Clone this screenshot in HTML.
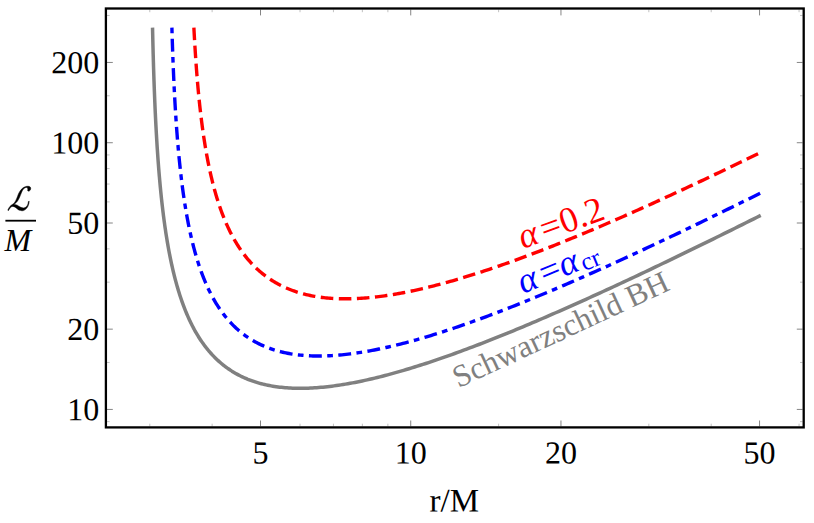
<!DOCTYPE html>
<html><head><meta charset="utf-8"><title>plot</title>
<style>
html,body{margin:0;padding:0;background:#fff;}
body{width:814px;height:523px;overflow:hidden;}
svg{display:block;}
text{font-family:"Liberation Serif",serif;text-rendering:geometricPrecision;}
</style></head><body>
<svg width="814" height="523" viewBox="0 0 814 523">
<rect x="0" y="0" width="814" height="523" fill="#ffffff"/>
<path d="M152.53,27.60 L152.58,29.65 L152.62,31.70 L152.67,33.75 L152.72,35.80 L152.76,37.85 L152.81,39.90 L152.86,41.95 L152.91,43.99 L152.96,46.04 L153.02,48.08 L153.07,50.13 L153.12,52.17 L153.18,54.21 L153.24,56.25 L153.29,58.29 L153.35,60.32 L153.41,62.36 L153.47,64.40 L153.53,66.43 L153.59,68.46 L153.66,70.50 L153.72,72.53 L153.79,74.56 L153.86,76.58 L153.92,78.61 L153.99,80.64 L154.07,82.66 L154.14,84.68 L154.21,86.70 L154.29,88.72 L154.36,90.74 L154.44,92.76 L154.52,94.78 L154.60,96.79 L154.68,98.80 L154.76,100.81 L154.85,102.82 L154.93,104.83 L155.02,106.84 L155.11,108.84 L155.20,110.84 L155.29,112.85 L155.39,114.84 L155.48,116.84 L155.58,118.84 L155.68,120.83 L155.78,122.82 L155.88,124.81 L155.99,126.80 L156.10,128.79 L156.20,130.77 L156.31,132.75 L156.43,134.73 L156.54,136.71 L156.66,138.69 L156.78,140.66 L156.90,142.63 L157.02,144.60 L157.14,146.57 L157.27,148.53 L157.40,150.49 L157.53,152.45 L157.67,154.41 L157.80,156.36 L157.94,158.31 L158.08,160.26 L158.22,162.21 L158.37,164.15 L158.52,166.10 L158.67,168.03 L158.82,169.97 L158.98,171.90 L159.14,173.83 L159.30,175.76 L159.47,177.68 L159.64,179.60 L159.81,181.52 L159.98,183.43 L160.16,185.34 L160.34,187.25 L160.52,189.16 L160.71,191.06 L160.90,192.95 L161.09,194.85 L161.28,196.74 L161.48,198.62 L161.69,200.51 L161.89,202.39 L162.10,204.26 L162.32,206.13 L162.54,208.00 L162.76,209.86 L162.98,211.72 L163.21,213.58 L163.44,215.43 L163.68,217.28 L163.92,219.12 L164.17,220.96 L164.42,222.79 L164.67,224.62 L164.93,226.44 L165.19,228.26 L165.46,230.08 L165.73,231.89 L166.00,233.69 L166.28,235.49 L166.57,237.29 L166.86,239.08 L167.15,240.86 L167.45,242.64 L167.76,244.41 L168.07,246.18 L168.39,247.95 L168.71,249.70 L169.03,251.45 L169.36,253.20 L169.70,254.94 L170.04,256.67 L170.39,258.40 L170.75,260.12 L171.11,261.84 L171.47,263.54 L171.85,265.25 L172.22,266.94 L172.61,268.63 L173.00,270.31 L173.40,271.99 L173.80,273.66 L174.21,275.32 L174.63,276.97 L175.05,278.62 L175.48,280.26 L175.92,281.89 L176.37,283.51 L176.82,285.13 L177.28,286.74 L177.75,288.34 L178.22,289.93 L178.70,291.51 L179.19,293.09 L179.69,294.66 L180.20,296.22 L180.71,297.77 L181.23,299.31 L181.76,300.84 L182.30,302.37 L182.85,303.88 L183.40,305.39 L183.97,306.89 L184.54,308.37 L185.12,309.85 L185.71,311.32 L186.31,312.78 L186.92,314.23 L187.54,315.67 L188.17,317.09 L188.81,318.51 L189.46,319.92 L190.11,321.32 L190.78,322.70 L191.46,324.08 L192.15,325.44 L192.85,326.80 L193.55,328.14 L194.27,329.47 L195.00,330.79 L195.74,332.10 L196.50,333.39 L197.26,334.68 L198.03,335.95 L198.82,337.21 L199.62,338.46 L200.42,339.69 L201.25,340.92 L202.08,342.13 L202.92,343.33 L203.78,344.51 L204.65,345.68 L205.53,346.84 L206.42,347.99 L207.33,349.12 L208.24,350.24 L209.17,351.34 L210.12,352.43 L211.08,353.51 L212.05,354.57 L213.03,355.62 L214.03,356.65 L215.04,357.67 L216.06,358.68 L217.10,359.67 L218.15,360.64 L219.22,361.61 L220.30,362.55 L221.39,363.48 L222.50,364.40 L223.63,365.29 L224.76,366.18 L225.92,367.05 L227.08,367.90 L228.27,368.73 L229.46,369.55 L230.68,370.36 L231.90,371.15 L233.15,371.92 L234.41,372.67 L235.68,373.41 L236.97,374.13 L238.28,374.84 L239.60,375.52 L240.93,376.19 L242.29,376.85 L243.66,377.48 L245.04,378.10 L246.44,378.70 L247.86,379.29 L249.30,379.85 L250.75,380.40 L252.22,380.93 L253.70,381.44 L255.20,381.94 L256.72,382.42 L258.26,382.87 L259.81,383.32 L261.38,383.74 L262.97,384.14 L264.57,384.53 L266.19,384.89 L267.83,385.24 L269.49,385.57 L271.16,385.89 L272.85,386.18 L274.56,386.45 L276.28,386.71 L278.03,386.95 L279.79,387.16 L281.56,387.36 L283.36,387.54 L285.17,387.70 L287.01,387.85 L288.86,387.97 L290.72,388.07 L292.61,388.16 L294.51,388.23 L296.43,388.27 L298.37,388.30 L300.32,388.31 L302.30,388.30 L304.29,388.27 L306.30,388.23 L308.32,388.16 L310.37,388.07 L312.43,387.97 L314.51,387.85 L316.61,387.70 L318.73,387.54 L320.86,387.36 L323.01,387.16 L325.18,386.94 L327.37,386.71 L329.57,386.45 L331.79,386.18 L334.03,385.88 L336.29,385.57 L338.56,385.24 L340.85,384.89 L343.16,384.52 L345.49,384.14 L347.83,383.73 L350.19,383.31 L352.57,382.87 L354.96,382.41 L357.37,381.94 L359.80,381.44 L362.24,380.93 L364.70,380.40 L367.18,379.85 L369.68,379.28 L372.19,378.70 L374.72,378.10 L377.26,377.48 L379.82,376.84 L382.39,376.19 L384.99,375.52 L387.59,374.83 L390.22,374.13 L392.86,373.40 L395.51,372.67 L398.18,371.91 L400.87,371.14 L403.57,370.35 L406.29,369.55 L409.02,368.73 L411.77,367.89 L414.53,367.04 L417.31,366.17 L420.10,365.29 L422.90,364.39 L425.73,363.47 L428.56,362.54 L431.41,361.60 L434.27,360.64 L437.15,359.66 L440.04,358.67 L442.95,357.67 L445.87,356.65 L448.80,355.61 L451.74,354.56 L454.70,353.50 L457.67,352.42 L460.66,351.33 L463.66,350.23 L466.67,349.11 L469.69,347.98 L472.73,346.83 L475.78,345.67 L478.84,344.50 L481.91,343.32 L485.00,342.12 L488.10,340.91 L491.20,339.68 L494.33,338.45 L497.46,337.20 L500.60,335.94 L503.76,334.67 L506.92,333.38 L510.10,332.09 L513.29,330.78 L516.49,329.46 L519.70,328.13 L522.92,326.79 L526.15,325.43 L529.39,324.07 L532.64,322.69 L535.91,321.31 L539.18,319.91 L542.46,318.50 L545.75,317.08 L549.05,315.65 L552.36,314.22 L555.68,312.77 L559.01,311.31 L562.35,309.84 L565.70,308.36 L569.05,306.88 L572.42,305.38 L575.79,303.87 L579.17,302.36 L582.56,300.83 L585.96,299.30 L589.37,297.76 L592.79,296.21 L596.21,294.65 L599.64,293.08 L603.08,291.50 L606.53,289.92 L609.98,288.33 L613.45,286.72 L616.92,285.12 L620.39,283.50 L623.88,281.88 L627.37,280.24 L630.87,278.60 L634.37,276.96 L637.88,275.30 L641.40,273.64 L644.93,271.97 L648.46,270.30 L652.00,268.62 L655.54,266.93 L659.10,265.23 L662.65,263.53 L666.22,261.82 L669.78,260.11 L673.36,258.39 L676.94,256.66 L680.53,254.93 L684.12,253.19 L687.72,251.44 L691.32,249.69 L694.93,247.93 L698.54,246.17 L702.16,244.40 L705.79,242.63 L709.41,240.85 L713.05,239.06 L716.69,237.27 L720.33,235.48 L723.98,233.68 L727.63,231.87 L731.29,230.06 L734.96,228.25 L738.62,226.43 L742.29,224.60 L745.97,222.78 L749.65,220.94 L753.33,219.10 L757.02,217.26 L760.72,215.41" fill="none" stroke="#808080" stroke-width="3.5" stroke-linejoin="round"/>
<path d="M171.90,27.60 L171.96,29.53 L172.01,31.46 L172.07,33.39 L172.13,35.32 L172.19,37.25 L172.25,39.18 L172.31,41.10 L172.37,43.03 L172.44,44.95 L172.50,46.87 L172.57,48.79 L172.63,50.71 L172.70,52.63 L172.77,54.55 L172.84,56.47 L172.91,58.38 L172.98,60.29 L173.06,62.21 L173.13,64.12 L173.21,66.03 L173.29,67.94 L173.37,69.84 L173.45,71.75 L173.53,73.65 L173.61,75.55 L173.70,77.45 L173.78,79.35 L173.87,81.25 L173.96,83.15 L174.05,85.04 L174.14,86.93 L174.23,88.82 L174.33,90.71 L174.43,92.60 L174.52,94.48 L174.62,96.37 L174.73,98.25 L174.83,100.13 L174.93,102.01 L175.04,103.88 L175.15,105.76 L175.26,107.63 L175.37,109.50 L175.49,111.37 L175.60,113.24 L175.72,115.10 L175.84,116.96 L175.96,118.82 L176.09,120.68 L176.21,122.53 L176.34,124.39 L176.47,126.24 L176.61,128.09 L176.74,129.93 L176.88,131.78 L177.02,133.62 L177.16,135.45 L177.30,137.29 L177.45,139.12 L177.60,140.95 L177.75,142.78 L177.91,144.61 L178.06,146.43 L178.22,148.25 L178.38,150.06 L178.55,151.88 L178.71,153.69 L178.88,155.50 L179.06,157.30 L179.23,159.10 L179.41,160.90 L179.59,162.70 L179.78,164.49 L179.97,166.28 L180.16,168.06 L180.35,169.84 L180.55,171.62 L180.75,173.40 L180.95,175.17 L181.16,176.94 L181.37,178.70 L181.58,180.46 L181.80,182.22 L182.02,183.97 L182.24,185.72 L182.47,187.46 L182.70,189.21 L182.94,190.94 L183.18,192.68 L183.42,194.40 L183.67,196.13 L183.92,197.85 L184.17,199.56 L184.43,201.27 L184.70,202.98 L184.97,204.68 L185.24,206.38 L185.51,208.07 L185.79,209.76 L186.08,211.44 L186.37,213.12 L186.66,214.79 L186.96,216.46 L187.27,218.12 L187.58,219.78 L187.89,221.43 L188.21,223.08 L188.53,224.72 L188.86,226.36 L189.20,227.99 L189.53,229.61 L189.88,231.23 L190.23,232.84 L190.58,234.45 L190.95,236.05 L191.31,237.65 L191.69,239.24 L192.06,240.82 L192.45,242.39 L192.84,243.96 L193.23,245.53 L193.64,247.08 L194.05,248.63 L194.46,250.18 L194.88,251.71 L195.31,253.24 L195.74,254.76 L196.18,256.28 L196.63,257.78 L197.09,259.28 L197.55,260.78 L198.02,262.26 L198.49,263.74 L198.97,265.21 L199.46,266.67 L199.96,268.13 L200.47,269.57 L200.98,271.01 L201.50,272.44 L202.03,273.86 L202.56,275.27 L203.11,276.68 L203.66,278.07 L204.22,279.46 L204.79,280.84 L205.36,282.21 L205.95,283.57 L206.54,284.92 L207.14,286.26 L207.75,287.59 L208.37,288.92 L209.00,290.23 L209.64,291.53 L210.28,292.83 L210.94,294.11 L211.61,295.39 L212.28,296.65 L212.96,297.90 L213.66,299.15 L214.36,300.38 L215.07,301.60 L215.80,302.81 L216.53,304.01 L217.28,305.20 L218.03,306.38 L218.79,307.55 L219.57,308.70 L220.35,309.85 L221.15,310.98 L221.96,312.10 L222.78,313.21 L223.61,314.31 L224.45,315.40 L225.30,316.47 L226.16,317.54 L227.03,318.59 L227.92,319.62 L228.82,320.65 L229.73,321.66 L230.65,322.66 L231.58,323.65 L232.53,324.62 L233.48,325.58 L234.45,326.53 L235.44,327.47 L236.43,328.39 L237.44,329.30 L238.46,330.19 L239.49,331.07 L240.54,331.94 L241.59,332.79 L242.67,333.63 L243.75,334.46 L244.85,335.27 L245.96,336.07 L247.09,336.85 L248.22,337.62 L249.38,338.37 L250.54,339.11 L251.72,339.83 L252.92,340.54 L254.12,341.24 L255.34,341.92 L256.58,342.58 L257.83,343.23 L259.10,343.86 L260.37,344.48 L261.67,345.09 L262.98,345.67 L264.30,346.25 L265.64,346.80 L266.99,347.35 L268.35,347.87 L269.74,348.38 L271.13,348.87 L272.55,349.35 L273.97,349.81 L275.42,350.26 L276.87,350.69 L278.35,351.10 L279.83,351.50 L281.34,351.88 L282.86,352.24 L284.39,352.59 L285.94,352.92 L287.51,353.23 L289.09,353.53 L290.69,353.81 L292.30,354.08 L293.93,354.32 L295.57,354.55 L297.23,354.77 L298.91,354.97 L300.60,355.15 L302.31,355.31 L304.03,355.46 L305.77,355.59 L307.53,355.70 L309.30,355.80 L311.09,355.88 L312.89,355.94 L314.71,355.98 L316.55,356.01 L318.40,356.02 L320.26,356.02 L322.15,355.99 L324.05,355.95 L325.96,355.90 L327.90,355.82 L329.84,355.73 L331.81,355.63 L333.79,355.50 L335.78,355.36 L337.80,355.20 L339.82,355.03 L341.87,354.83 L343.93,354.62 L346.00,354.40 L348.09,354.16 L350.20,353.90 L352.32,353.62 L354.46,353.33 L356.62,353.02 L358.79,352.69 L360.97,352.35 L363.17,351.99 L365.39,351.62 L367.62,351.23 L369.87,350.82 L372.13,350.40 L374.41,349.96 L376.70,349.50 L379.01,349.03 L381.33,348.54 L383.67,348.03 L386.02,347.51 L388.39,346.98 L390.77,346.43 L393.17,345.86 L395.58,345.28 L398.01,344.68 L400.45,344.06 L402.91,343.43 L405.38,342.79 L407.86,342.13 L410.36,341.45 L412.88,340.76 L415.40,340.06 L417.94,339.34 L420.50,338.61 L423.07,337.86 L425.65,337.09 L428.25,336.32 L430.86,335.52 L433.48,334.72 L436.12,333.90 L438.76,333.06 L441.43,332.21 L444.10,331.35 L446.79,330.47 L449.49,329.58 L452.21,328.68 L454.93,327.76 L457.67,326.83 L460.43,325.89 L463.19,324.93 L465.97,323.96 L468.76,322.98 L471.56,321.98 L474.37,320.97 L477.19,319.95 L480.03,318.92 L482.88,317.87 L485.74,316.81 L488.61,315.74 L491.49,314.66 L494.38,313.57 L497.29,312.46 L500.20,311.34 L503.13,310.21 L506.07,309.07 L509.01,307.92 L511.97,306.75 L514.94,305.58 L517.92,304.39 L520.91,303.20 L523.91,301.99 L526.92,300.77 L529.94,299.54 L532.97,298.30 L536.01,297.05 L539.05,295.79 L542.11,294.52 L545.18,293.24 L548.26,291.95 L551.34,290.65 L554.44,289.34 L557.54,288.02 L560.66,286.69 L563.78,285.35 L566.91,284.00 L570.05,282.64 L573.19,281.28 L576.35,279.90 L579.51,278.52 L582.69,277.12 L585.87,275.72 L589.06,274.31 L592.25,272.89 L595.46,271.47 L598.67,270.03 L601.89,268.59 L605.11,267.14 L608.35,265.68 L611.59,264.21 L614.84,262.73 L618.10,261.25 L621.36,259.76 L624.63,258.26 L627.91,256.76 L631.19,255.25 L634.48,253.73 L637.78,252.20 L641.08,250.67 L644.39,249.13 L647.71,247.58 L651.03,246.02 L654.36,244.46 L657.69,242.90 L661.04,241.32 L664.38,239.74 L667.74,238.15 L671.09,236.56 L674.46,234.96 L677.83,233.36 L681.20,231.75 L684.58,230.13 L687.97,228.51 L691.36,226.88 L694.76,225.24 L698.16,223.61 L701.57,221.96 L704.98,220.31 L708.40,218.65 L711.82,216.99 L715.25,215.33 L718.68,213.66 L722.11,211.98 L725.55,210.30 L729.00,208.61 L732.45,206.92 L735.90,205.23 L739.36,203.52 L742.82,201.82 L746.29,200.11 L749.76,198.40 L753.24,196.68 L756.72,194.95 L760.20,193.23" fill="none" stroke="#0000ff" stroke-width="3.4" stroke-dasharray="5.7 5.4 12.9 5.396" stroke-linejoin="round"/>
<path d="M193.89,27.60 L193.97,29.31 L194.06,31.01 L194.15,32.72 L194.24,34.42 L194.34,36.12 L194.43,37.82 L194.53,39.52 L194.62,41.22 L194.72,42.91 L194.82,44.61 L194.92,46.30 L195.03,47.99 L195.13,49.68 L195.24,51.37 L195.35,53.05 L195.46,54.74 L195.57,56.42 L195.68,58.10 L195.79,59.78 L195.91,61.46 L196.03,63.13 L196.15,64.81 L196.27,66.48 L196.39,68.15 L196.52,69.82 L196.65,71.48 L196.78,73.15 L196.91,74.81 L197.04,76.47 L197.17,78.12 L197.31,79.78 L197.45,81.43 L197.59,83.08 L197.73,84.73 L197.88,86.38 L198.03,88.03 L198.18,89.67 L198.33,91.31 L198.48,92.95 L198.64,94.58 L198.80,96.21 L198.96,97.84 L199.13,99.47 L199.29,101.10 L199.46,102.72 L199.63,104.34 L199.80,105.96 L199.98,107.57 L200.16,109.18 L200.34,110.79 L200.53,112.40 L200.71,114.00 L200.90,115.61 L201.09,117.20 L201.29,118.80 L201.49,120.39 L201.69,121.98 L201.89,123.57 L202.10,125.15 L202.31,126.73 L202.52,128.31 L202.74,129.88 L202.96,131.45 L203.18,133.02 L203.41,134.58 L203.64,136.14 L203.87,137.70 L204.11,139.25 L204.35,140.80 L204.59,142.34 L204.84,143.89 L205.09,145.43 L205.34,146.96 L205.60,148.49 L205.86,150.02 L206.12,151.54 L206.39,153.06 L206.66,154.58 L206.94,156.09 L207.22,157.59 L207.50,159.10 L207.79,160.60 L208.08,162.09 L208.38,163.58 L208.68,165.07 L208.99,166.55 L209.30,168.03 L209.61,169.50 L209.93,170.97 L210.25,172.43 L210.58,173.89 L210.91,175.34 L211.25,176.79 L211.59,178.23 L211.93,179.67 L212.29,181.11 L212.64,182.54 L213.00,183.96 L213.37,185.38 L213.74,186.79 L214.12,188.20 L214.50,189.60 L214.88,191.00 L215.28,192.39 L215.67,193.78 L216.08,195.16 L216.49,196.53 L216.90,197.90 L217.32,199.26 L217.74,200.62 L218.18,201.97 L218.61,203.32 L219.06,204.65 L219.51,205.99 L219.96,207.31 L220.42,208.63 L220.89,209.95 L221.36,211.25 L221.84,212.56 L222.33,213.85 L222.82,215.14 L223.32,216.42 L223.83,217.69 L224.34,218.96 L224.86,220.22 L225.39,221.47 L225.92,222.71 L226.46,223.95 L227.01,225.18 L227.57,226.41 L228.13,227.62 L228.70,228.83 L229.27,230.03 L229.86,231.23 L230.45,232.41 L231.05,233.59 L231.66,234.76 L232.27,235.92 L232.89,237.07 L233.52,238.22 L234.16,239.36 L234.81,240.49 L235.46,241.61 L236.13,242.72 L236.80,243.82 L237.48,244.92 L238.17,246.00 L238.86,247.08 L239.57,248.15 L240.28,249.21 L241.01,250.26 L241.74,251.30 L242.48,252.33 L243.23,253.35 L243.99,254.37 L244.75,255.37 L245.53,256.37 L246.32,257.35 L247.11,258.33 L247.92,259.29 L248.73,260.25 L249.56,261.19 L250.39,262.13 L251.24,263.06 L252.09,263.97 L252.95,264.88 L253.83,265.77 L254.71,266.66 L255.60,267.53 L256.51,268.39 L257.42,269.25 L258.35,270.09 L259.28,270.92 L260.23,271.74 L261.18,272.55 L262.15,273.35 L263.13,274.14 L264.12,274.91 L265.12,275.68 L266.13,276.43 L267.15,277.17 L268.18,277.90 L269.23,278.62 L270.28,279.33 L271.35,280.03 L272.42,280.71 L273.51,281.39 L274.61,282.05 L275.72,282.70 L276.85,283.33 L277.98,283.96 L279.13,284.57 L280.29,285.17 L281.46,285.76 L282.64,286.34 L283.83,286.90 L285.04,287.45 L286.26,287.99 L287.49,288.52 L288.73,289.03 L289.99,289.53 L291.25,290.02 L292.53,290.50 L293.82,290.96 L295.13,291.41 L296.44,291.85 L297.77,292.27 L299.11,292.69 L300.47,293.08 L301.83,293.47 L303.21,293.84 L304.60,294.20 L306.01,294.55 L307.43,294.88 L308.86,295.20 L310.30,295.51 L311.75,295.80 L313.22,296.08 L314.70,296.34 L316.20,296.60 L317.70,296.84 L319.22,297.06 L320.76,297.27 L322.30,297.47 L323.86,297.66 L325.43,297.83 L327.02,297.99 L328.61,298.13 L330.22,298.26 L331.85,298.38 L333.49,298.48 L335.13,298.57 L336.80,298.65 L338.47,298.71 L340.16,298.76 L341.86,298.79 L343.58,298.82 L345.31,298.82 L347.05,298.82 L348.80,298.80 L350.57,298.76 L352.35,298.72 L354.14,298.66 L355.95,298.58 L357.77,298.49 L359.60,298.39 L361.45,298.27 L363.31,298.15 L365.18,298.00 L367.06,297.85 L368.96,297.68 L370.87,297.49 L372.79,297.29 L374.72,297.08 L376.67,296.86 L378.63,296.62 L380.61,296.37 L382.59,296.10 L384.59,295.83 L386.60,295.53 L388.63,295.23 L390.66,294.91 L392.71,294.58 L394.77,294.23 L396.85,293.88 L398.93,293.50 L401.03,293.12 L403.14,292.72 L405.26,292.31 L407.40,291.89 L409.54,291.45 L411.70,291.00 L413.87,290.54 L416.06,290.06 L418.25,289.58 L420.46,289.08 L422.68,288.56 L424.91,288.04 L427.15,287.50 L429.40,286.95 L431.66,286.38 L433.94,285.81 L436.23,285.22 L438.53,284.62 L440.84,284.01 L443.16,283.38 L445.49,282.75 L447.83,282.10 L450.19,281.44 L452.55,280.77 L454.93,280.08 L457.32,279.38 L459.72,278.68 L462.12,277.96 L464.54,277.23 L466.97,276.48 L469.41,275.73 L471.86,274.97 L474.32,274.19 L476.80,273.40 L479.28,272.60 L481.77,271.79 L484.27,270.97 L486.78,270.14 L489.30,269.30 L491.83,268.45 L494.37,267.58 L496.92,266.71 L499.48,265.83 L502.05,264.93 L504.63,264.02 L507.22,263.11 L509.81,262.18 L512.42,261.25 L515.04,260.30 L517.66,259.35 L520.29,258.38 L522.94,257.40 L525.59,256.42 L528.25,255.42 L530.91,254.42 L533.59,253.41 L536.28,252.38 L538.97,251.35 L541.67,250.31 L544.38,249.26 L547.10,248.20 L549.83,247.13 L552.56,246.05 L555.30,244.96 L558.05,243.87 L560.81,242.76 L563.58,241.65 L566.35,240.53 L569.13,239.40 L571.92,238.26 L574.71,237.12 L577.52,235.96 L580.33,234.80 L583.14,233.63 L585.97,232.45 L588.80,231.27 L591.64,230.07 L594.48,228.87 L597.33,227.66 L600.19,226.44 L603.06,225.22 L605.93,223.99 L608.81,222.75 L611.69,221.50 L614.58,220.25 L617.48,218.99 L620.38,217.72 L623.29,216.45 L626.21,215.17 L629.13,213.88 L632.06,212.58 L634.99,211.28 L637.93,209.97 L640.88,208.66 L643.83,207.34 L646.78,206.01 L649.75,204.68 L652.71,203.34 L655.69,201.99 L658.66,200.64 L661.65,199.28 L664.64,197.92 L667.63,196.55 L670.63,195.17 L673.63,193.79 L676.64,192.40 L679.65,191.01 L682.67,189.61 L685.70,188.21 L688.72,186.80 L691.76,185.39 L694.79,183.97 L697.84,182.54 L700.88,181.11 L703.93,179.68 L706.99,178.24 L710.05,176.79 L713.11,175.34 L716.18,173.89 L719.25,172.43 L722.33,170.97 L725.41,169.50 L728.50,168.02 L731.58,166.55 L734.68,165.06 L737.77,163.58 L740.87,162.09 L743.98,160.59 L747.08,159.09 L750.19,157.59 L753.31,156.08 L756.43,154.57 L759.55,153.05" fill="none" stroke="#ff0000" stroke-width="3.4" stroke-dasharray="12.56 5.534" stroke-linejoin="round"/>
<g stroke="#666" stroke-width="0.8" fill="none">
<line x1="260.50" y1="426.30" x2="260.50" y2="420.50"/>
<line x1="260.50" y1="9.60" x2="260.50" y2="15.40"/>
<line x1="410.73" y1="426.30" x2="410.73" y2="420.50"/>
<line x1="410.73" y1="9.60" x2="410.73" y2="15.40"/>
<line x1="560.96" y1="426.30" x2="560.96" y2="420.50"/>
<line x1="560.96" y1="9.60" x2="560.96" y2="15.40"/>
<line x1="759.55" y1="426.30" x2="759.55" y2="420.50"/>
<line x1="759.55" y1="9.60" x2="759.55" y2="15.40"/>
<line x1="107.00" y1="409.43" x2="112.80" y2="409.43"/>
<line x1="802.60" y1="409.43" x2="796.80" y2="409.43"/>
<line x1="107.00" y1="329.15" x2="112.80" y2="329.15"/>
<line x1="802.60" y1="329.15" x2="796.80" y2="329.15"/>
<line x1="107.00" y1="223.01" x2="112.80" y2="223.01"/>
<line x1="802.60" y1="223.01" x2="796.80" y2="223.01"/>
<line x1="107.00" y1="142.73" x2="112.80" y2="142.73"/>
<line x1="802.60" y1="142.73" x2="796.80" y2="142.73"/>
<line x1="107.00" y1="62.45" x2="112.80" y2="62.45"/>
<line x1="802.60" y1="62.45" x2="796.80" y2="62.45"/>
</g>
<g stroke="#999" stroke-width="0.6" fill="none">
<line x1="149.79" y1="426.30" x2="149.79" y2="423.70"/>
<line x1="149.79" y1="9.60" x2="149.79" y2="12.20"/>
<line x1="212.14" y1="426.30" x2="212.14" y2="423.70"/>
<line x1="212.14" y1="9.60" x2="212.14" y2="12.20"/>
<line x1="300.02" y1="426.30" x2="300.02" y2="423.70"/>
<line x1="300.02" y1="9.60" x2="300.02" y2="12.20"/>
<line x1="333.43" y1="426.30" x2="333.43" y2="423.70"/>
<line x1="333.43" y1="9.60" x2="333.43" y2="12.20"/>
<line x1="362.37" y1="426.30" x2="362.37" y2="423.70"/>
<line x1="362.37" y1="9.60" x2="362.37" y2="12.20"/>
<line x1="387.89" y1="426.30" x2="387.89" y2="423.70"/>
<line x1="387.89" y1="9.60" x2="387.89" y2="12.20"/>
<line x1="498.61" y1="426.30" x2="498.61" y2="423.70"/>
<line x1="498.61" y1="9.60" x2="498.61" y2="12.20"/>
<line x1="648.84" y1="426.30" x2="648.84" y2="423.70"/>
<line x1="648.84" y1="9.60" x2="648.84" y2="12.20"/>
<line x1="711.19" y1="426.30" x2="711.19" y2="423.70"/>
<line x1="711.19" y1="9.60" x2="711.19" y2="12.20"/>
<line x1="799.07" y1="426.30" x2="799.07" y2="423.70"/>
<line x1="799.07" y1="9.60" x2="799.07" y2="12.20"/>
<line x1="107.00" y1="421.63" x2="109.60" y2="421.63"/>
<line x1="802.60" y1="421.63" x2="800.00" y2="421.63"/>
<line x1="107.00" y1="362.47" x2="109.60" y2="362.47"/>
<line x1="802.60" y1="362.47" x2="800.00" y2="362.47"/>
<line x1="107.00" y1="282.18" x2="109.60" y2="282.18"/>
<line x1="802.60" y1="282.18" x2="800.00" y2="282.18"/>
<line x1="107.00" y1="248.86" x2="109.60" y2="248.86"/>
<line x1="802.60" y1="248.86" x2="800.00" y2="248.86"/>
<line x1="107.00" y1="201.90" x2="109.60" y2="201.90"/>
<line x1="802.60" y1="201.90" x2="800.00" y2="201.90"/>
<line x1="107.00" y1="184.04" x2="109.60" y2="184.04"/>
<line x1="802.60" y1="184.04" x2="800.00" y2="184.04"/>
<line x1="107.00" y1="168.58" x2="109.60" y2="168.58"/>
<line x1="802.60" y1="168.58" x2="800.00" y2="168.58"/>
<line x1="107.00" y1="154.93" x2="109.60" y2="154.93"/>
<line x1="802.60" y1="154.93" x2="800.00" y2="154.93"/>
<line x1="107.00" y1="95.77" x2="109.60" y2="95.77"/>
<line x1="802.60" y1="95.77" x2="800.00" y2="95.77"/>
<line x1="107.00" y1="15.48" x2="109.60" y2="15.48"/>
<line x1="802.60" y1="15.48" x2="800.00" y2="15.48"/>
</g>
<rect x="105.9" y="8.5" width="697.80" height="418.90" fill="none" stroke="#000" stroke-width="2.3"/>
<g font-size="32" fill="#000">
<text transform="translate(99.3,420.23) rotate(0.03)" text-anchor="end">10</text>
<text transform="translate(99.3,339.95) rotate(0.03)" text-anchor="end">20</text>
<text transform="translate(99.3,233.81) rotate(0.03)" text-anchor="end">50</text>
<text transform="translate(99.3,153.53) rotate(0.03)" text-anchor="end">100</text>
<text transform="translate(99.3,73.25) rotate(0.03)" text-anchor="end">200</text>
<text transform="translate(260.50,463.6) rotate(0.03)" text-anchor="middle">5</text>
<text transform="translate(410.73,463.6) rotate(0.03)" text-anchor="middle">10</text>
<text transform="translate(560.96,463.6) rotate(0.03)" text-anchor="middle">20</text>
<text transform="translate(759.55,463.6) rotate(0.03)" text-anchor="middle">50</text>
<text transform="translate(454.3,511.6) rotate(0.03)" text-anchor="middle" font-size="33">r/M</text>
<text transform="translate(17.8,251.1) rotate(0.03)" text-anchor="middle" font-style="italic">M</text>
</g>
<rect x="5.4" y="219.79999999999998" width="30.6" height="1.8" fill="#000"/>
<path transform="translate(6.5,210.5) scale(0.0332,-0.0354)" d="M728 607C733 627 730 646 719 659C704 679 677 685 646 685C594 685 537 670 490 634C456 608 424 574 400 540C369 496 352 451 334 403C307 333 259 230 219 199C201 185 178 169 161 159C147 150 118 133 104 116C71 77 51 44 40 11L56 -6C71 21 92 52 116 80C132 99 169 115 192 115C218 115 265 94 320 51C341 30 356 21 393 6C412 -3 457 -7 481 -7C524 -7 556 18 592 48C641 89 661 146 675 202C677 213 684 243 684 260L659 255C657 241 653 217 649 200C640 162 628 139 601 111C575 84 551 72 518 72C496 72 475 77 456 83C427 91 370 117 350 134C350 134 309 170 229 170L227 176C246 185 270 203 294 225C316 245 341 274 356 303C385 350 402 386 418 428C436 473 465 539 484 574C496 597 508 608 530 625C551 642 573 651 594 651C613 651 624 647 633 635C640 624 645 604 642 590C639 579 635 563 639 558C645 550 655 546 667 546C667 546 713 547 728 607Z" fill="#000" stroke="#000" stroke-width="14" stroke-linejoin="round"/>
<text transform="translate(523,249.0) rotate(-20)" font-size="36" fill="#ff0000"><tspan font-style="italic">α</tspan><tspan dx="4.2">=</tspan><tspan dx="0.6">0.2</tspan></text>
<text transform="translate(523,294) rotate(-22.5)" font-size="36" fill="#0000ff"><tspan font-style="italic">α</tspan><tspan dx="4.6">=</tspan><tspan dx="0.4" font-style="italic">α</tspan><tspan font-size="25" dx="2.5" dy="2.5">cr</tspan></text>
<text transform="translate(458.6,388.2) rotate(-24.9)" font-size="31.4" fill="#808080">Schwarzschild BH</text>
</svg>
</body></html>
